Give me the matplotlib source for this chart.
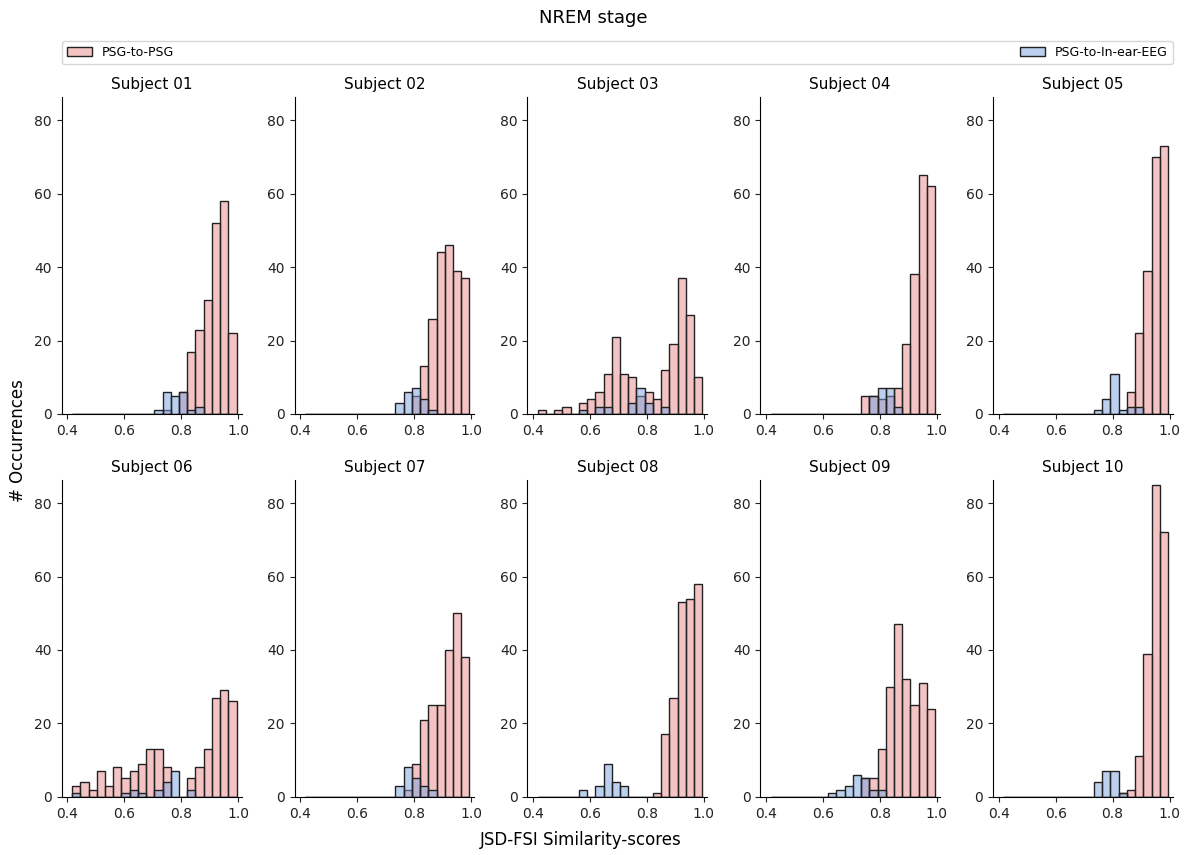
import numpy as np
import matplotlib.pyplot as plt

# common bin edges (20 bins) shared by every subject
bin_lo, bin_hi, n_bins = 0.4165, 0.9945, 20

subjects = ["Subject 01", "Subject 02", "Subject 03", "Subject 04", "Subject 05",
            "Subject 06", "Subject 07", "Subject 08", "Subject 09", "Subject 10"]

# counts per bin, PSG-to-PSG
psg_s01 = [0, 0, 0, 0, 0, 0, 0, 0, 0, 0, 0, 1, 0, 6, 17, 23, 31, 52, 58, 22]
psg_s02 = [0, 0, 0, 0, 0, 0, 0, 0, 0, 0, 0, 0, 0, 5, 13, 26, 44, 46, 39, 37]
psg_s03 = [1, 0, 1, 2, 0, 3, 4, 6, 11, 21, 11, 10, 5, 6, 4, 12, 19, 37, 27, 10]
psg_s04 = [0, 0, 0, 0, 0, 0, 0, 0, 0, 0, 0, 5, 5, 4, 5, 7, 19, 38, 65, 62]
psg_s05 = [0, 0, 0, 0, 0, 0, 0, 0, 0, 0, 0, 0, 0, 0, 0, 6, 22, 39, 70, 73]
psg_s06 = [3, 4, 2, 7, 3, 8, 5, 7, 9, 13, 13, 8, 0, 0, 5, 8, 13, 27, 29, 26]
psg_s07 = [0, 0, 0, 0, 0, 0, 0, 0, 0, 0, 0, 0, 2, 9, 21, 25, 25, 40, 50, 38]
psg_s08 = [0, 0, 0, 0, 0, 0, 0, 0, 0, 0, 0, 0, 0, 0, 1, 17, 27, 53, 54, 58]
psg_s09 = [0, 0, 0, 0, 0, 0, 0, 0, 0, 0, 0, 5, 5, 13, 30, 47, 32, 25, 31, 24]
psg_s10 = [0, 0, 0, 0, 0, 0, 0, 0, 0, 0, 0, 0, 0, 0, 1, 2, 11, 39, 85, 72]

# counts per bin, PSG-to-In-ear-EEG
ear_s01 = [0, 0, 0, 0, 0, 0, 0, 0, 0, 0, 1, 6, 5, 6, 1, 2, 0, 0, 0, 0]
ear_s02 = [0, 0, 0, 0, 0, 0, 0, 0, 0, 0, 0, 3, 6, 7, 4, 1, 0, 0, 0, 0]
ear_s03 = [0, 0, 0, 0, 0, 1, 0, 2, 2, 0, 0, 3, 7, 3, 0, 2, 0, 0, 0, 0]
ear_s04 = [0, 0, 0, 0, 0, 0, 0, 0, 0, 0, 0, 0, 5, 7, 7, 2, 0, 0, 0, 0]
ear_s05 = [0, 0, 0, 0, 0, 0, 0, 0, 0, 0, 0, 1, 4, 11, 1, 2, 2, 0, 0, 0]
ear_s06 = [1, 0, 0, 0, 0, 0, 1, 2, 1, 0, 2, 4, 7, 0, 2, 0, 0, 0, 0, 0]
ear_s07 = [0, 0, 0, 0, 0, 0, 0, 0, 0, 0, 0, 3, 8, 5, 3, 2, 0, 0, 0, 0]
ear_s08 = [0, 0, 0, 0, 0, 2, 0, 3, 9, 4, 3, 0, 0, 0, 0, 0, 0, 0, 0, 0]
ear_s09 = [0, 0, 0, 0, 0, 0, 0, 1, 2, 3, 6, 5, 2, 2, 0, 0, 0, 0, 0, 0]
ear_s10 = [0, 0, 0, 0, 0, 0, 0, 0, 0, 0, 0, 4, 7, 7, 1, 0, 0, 0, 0, 0]

psg_counts = [psg_s01, psg_s02, psg_s03, psg_s04, psg_s05,
              psg_s06, psg_s07, psg_s08, psg_s09, psg_s10]
ear_counts = [ear_s01, ear_s02, ear_s03, ear_s04, ear_s05,
              ear_s06, ear_s07, ear_s08, ear_s09, ear_s10]

pink = (0.92, 0.54, 0.54, 0.5)
blue = (0.47, 0.63, 0.88, 0.5)
edge = "#222222"

edges = np.linspace(bin_lo, bin_hi, n_bins + 1)
widths = np.diff(edges)

fig, axes = plt.subplots(2, 5, figsize=(11.86, 8.55), dpi=100, sharey=True)
fig.subplots_adjust(left=0.052, right=0.989, bottom=0.068, top=0.8865,
                    wspace=0.294, hspace=0.208)

for ax, name, p, e in zip(axes.flat, subjects, psg_counts, ear_counts):
    ax.bar(edges[:-1], p, width=widths, align="edge", color=pink,
           edgecolor=edge, linewidth=1.0, label="PSG-to-PSG")
    ax.bar(edges[:-1], e, width=widths, align="edge", color=blue,
           edgecolor=edge, linewidth=1.0, label="PSG-to-In-ear-EEG")
    ax.set_title(name, fontsize=11, pad=6)
    ax.set_xlim(0.38, 1.012)
    ax.set_ylim(0, 86.3)
    ax.set_xticks([0.4, 0.6, 0.8, 1.0])
    ax.set_yticks([0, 20, 40, 60, 80])
    ax.tick_params(labelsize=10, labelleft=True, colors="#222222")
    ax.spines["top"].set_visible(False)
    ax.spines["right"].set_visible(False)

handles, labels = axes[0, 0].get_legend_handles_labels()
fig.legend(handles, labels, loc="lower left", ncol=2, mode="expand",
           bbox_to_anchor=(0.052, 0.925, 0.937, 0.03), fontsize=9,
           frameon=True, borderaxespad=0.0)

fig.suptitle("NREM stage", fontsize=13, y=0.99)
fig.text(0.49, 0.012, "JSD-FSI Similarity-scores", ha="center", fontsize=12)
fig.text(0.008, 0.485, "# Occurrences", va="center", rotation=90, fontsize=12)

fig.savefig("out.png", dpi=100)
